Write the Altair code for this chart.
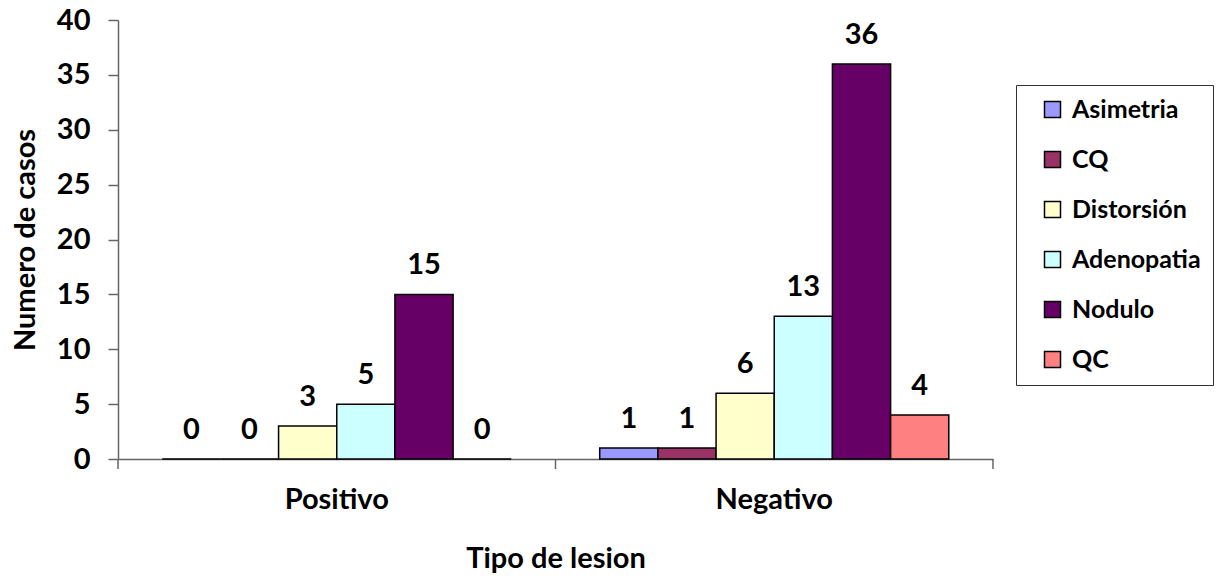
import altair as alt
import pandas as pd

# Lesion types per biopsy result
tipos = ["Positivo", "Negativo"]
lesiones = ["Asimetria", "CQ", "Distorsión", "Adenopatia", "Nodulo", "QC"]
colores = ["#9999FF", "#993366", "#FFFFCC", "#CCFFFF", "#660066", "#FF8080"]
positivo = [0, 0, 3, 5, 15, 0]
negativo = [1, 1, 6, 13, 36, 4]

rows = []
for tipo, vals in zip(tipos, [positivo, negativo]):
    for les, v in zip(lesiones, vals):
        rows.append({"Tipo": tipo, "Lesion": les, "Casos": v})
df = pd.DataFrame(rows)

FONT = "Lato"
FS = 29
W, H = 875, 439

x_enc = alt.X(
    "Tipo:N",
    sort=tipos,
    scale=alt.Scale(paddingInner=0, paddingOuter=0),
    axis=alt.Axis(
        title="Tipo de lesion",
        ticks=False,
        labelAngle=0,
        labelPadding=26,
        titlePadding=30,
        domainColor="#666666",
        domainWidth=1.5,
    ),
)
xoff = alt.XOffset(
    "Lesion:N",
    sort=lesiones,
    scale=alt.Scale(paddingOuter=0.76, paddingInner=0),
)
y_enc = alt.Y(
    "Casos:Q",
    scale=alt.Scale(domain=[0, 40], nice=False),
    axis=alt.Axis(
        title="Numero de casos",
        values=list(range(0, 41, 5)),
        grid=False,
        tickSize=10,
        tickColor="#666666",
        tickWidth=1.5,
        domainColor="#666666",
        domainWidth=1.5,
        labelPadding=18,
        titlePadding=16,
    ),
)

bars = alt.Chart(df).mark_bar(stroke="black", strokeWidth=1.5).encode(
    x=x_enc,
    xOffset=xoff,
    y=y_enc,
    color=alt.Color(
        "Lesion:N",
        sort=lesiones,
        scale=alt.Scale(domain=lesiones, range=colores),
        legend=alt.Legend(
            title=None,
            orient="none",
            legendX=898,
            legendY=65,
            symbolType="square",
            symbolSize=256,
            symbolStrokeColor="black",
            symbolStrokeWidth=1.5,
            symbolOffset=12,
            labelFontSize=25,
            labelFont=FONT,
            labelFontWeight="bold",
            labelColor="black",
            labelOffset=7,
            rowPadding=24,
            padding=12,
            strokeColor="#333333",
            fillColor="white",
        ),
    ),
)

labels = alt.Chart(df).mark_text(
    font=FONT, fontSize=FS, fontWeight="bold", baseline="middle", dy=-29, color="black"
).encode(
    x=alt.X("Tipo:N", sort=tipos),
    xOffset=alt.XOffset("Lesion:N", sort=lesiones),
    y="Casos:Q",
    text="Casos:Q",
)

# Category separators on the x axis: one at the start of each band, one at the end
tick_df = pd.DataFrame({"Tipo": tipos})
band_ticks = alt.Chart(tick_df).mark_rule(color="#666666", strokeWidth=1.5).encode(
    x=alt.X("Tipo:N", sort=tipos, bandPosition=0),
    y=alt.value(H),
    y2=alt.value(H + 10),
)
end_tick = alt.Chart(tick_df.head(1)).mark_rule(color="#666666", strokeWidth=1.5).encode(
    x=alt.value(W),
    y=alt.value(H),
    y2=alt.value(H + 10),
)

chart = (
    alt.layer(bars, labels, band_ticks, end_tick)
    .properties(
        width=W,
        height=H,
        autosize=alt.AutoSizeParams(type="none"),
        padding={"left": 118, "top": 20, "right": 234, "bottom": 120},
        background="white",
    )
    .configure_view(stroke=None)
    .configure_axis(
        labelFont=FONT,
        labelFontSize=FS,
        labelFontWeight="bold",
        labelColor="black",
        titleFont=FONT,
        titleFontSize=FS,
        titleFontWeight="bold",
        titleColor="black",
    )
)

chart.save("out.html", embed_options={"renderer": "svg", "actions": False})
